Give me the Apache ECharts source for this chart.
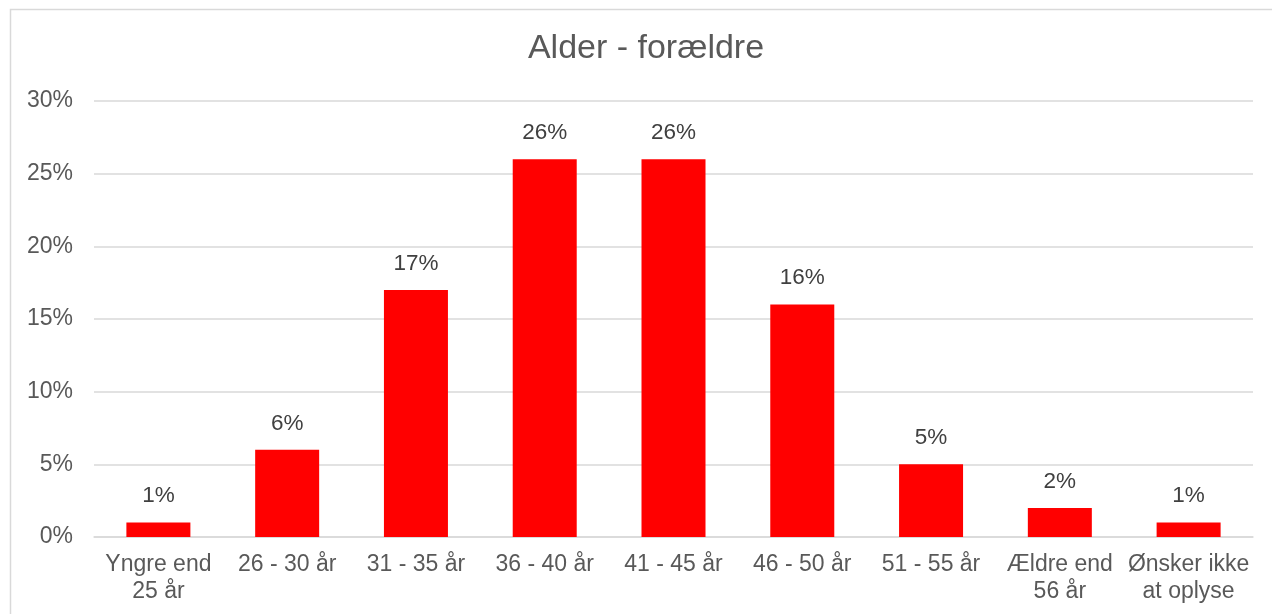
<!DOCTYPE html>
<html>
<head>
<meta charset="utf-8">
<script src="https://cdn.jsdelivr.net/npm/echarts@6/dist/echarts.min.js"></script>
<style>
html,body{margin:0;padding:0;background:#fff;}
#chart{width:1272px;height:614px;}
</style>
</head>
<body>
<div id="chart"></div>
<script>
const titleText = 'Alder - forældre';
const categories = ['Yngre end\n25 år', '26 - 30 år', '31 - 35 år', '36 - 40 år', '41 - 45 år', '46 - 50 år', '51 - 55 år', 'Ældre end\n56 år', 'Ønsker ikke\nat oplyse'];
const values = [1, 6, 17, 26, 26, 16, 5, 2, 1];
const yTicks = { min: 0, max: 30, interval: 5 };

const FONT = '"Liberation Sans", Arial, sans-serif';
const chart = echarts.init(document.getElementById('chart'), null, { renderer: 'canvas' });
chart.setOption({
  backgroundColor: '#ffffff',
  animation: false,
  graphic: [
    { type: 'rect', shape: { x: 10.5, y: 9.5, width: 1400, height: 800 }, style: { fill: 'none', stroke: '#d9d9d9', lineWidth: 1.5 }, silent: true },
    { type: 'text', x: 646, y: 49, style: { text: titleText, fill: '#595959', font: '34px ' + FONT, textAlign: 'center', textVerticalAlign: 'middle' } }
  ],
  grid: { left: 94, right: 19, top: 101, bottom: 77, containLabel: false },
  xAxis: {
    type: 'category',
    data: categories,
    axisLine: { show: true, lineStyle: { color: '#d9d9d9', width: 1.5 } },
    axisTick: { show: false },
    axisLabel: { color: '#595959', fontSize: 23, fontFamily: FONT, lineHeight: 27, margin: 14, interval: 0 }
  },
  yAxis: {
    type: 'value',
    min: yTicks.min, max: yTicks.max, interval: yTicks.interval,
    axisLine: { show: false },
    axisTick: { show: false },
    splitLine: { lineStyle: { color: '#d9d9d9', width: 1.5 } },
    axisLabel: { color: '#595959', fontSize: 23, fontFamily: FONT, margin: 21, formatter: '{value}%' }
  },
  series: [{
    type: 'bar',
    data: values,
    barWidth: 64,
    itemStyle: { color: '#ff0000' },
    label: { show: true, position: 'top', distance: 15, color: '#404040', fontSize: 22.5, fontFamily: FONT, formatter: '{c}%' }
  }]
});
</script>
</body>
</html>
